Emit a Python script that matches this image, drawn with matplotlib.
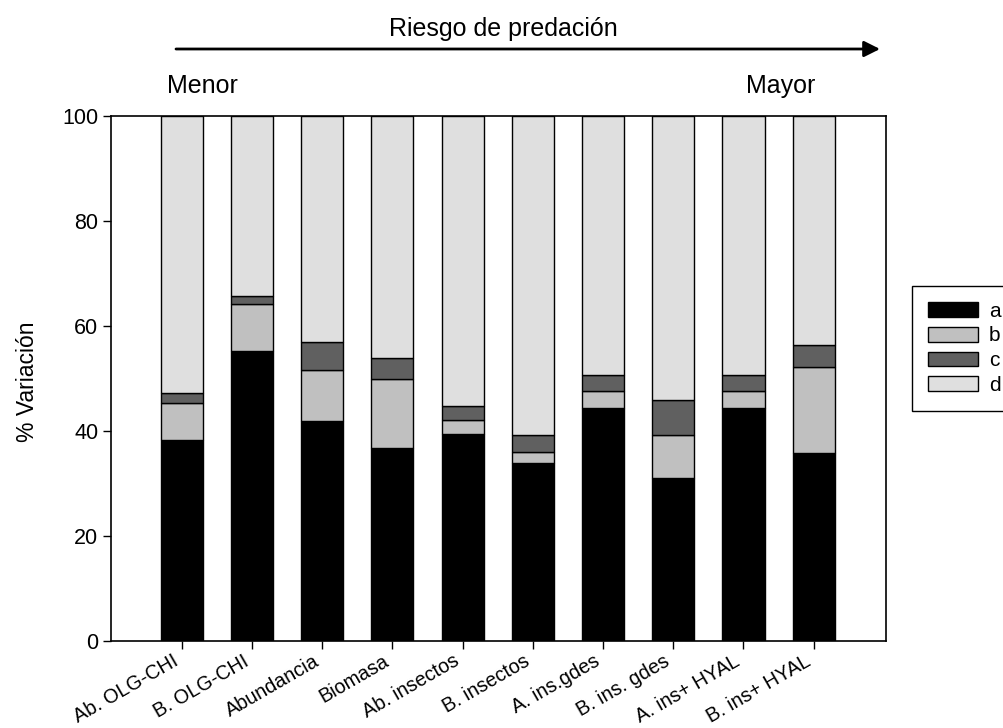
import matplotlib
matplotlib.use("Agg")
import matplotlib.pyplot as plt
import numpy as np

plt.rcParams["font.family"] = ["Liberation Sans", "DejaVu Sans"]

# Variables analysed, ordered by increasing predation risk
categories = ["Ab. OLG-CHI", "B. OLG-CHI", "Abundancia", "Biomasa", "Ab. insectos",
              "B. insectos", "A. ins.gdes", "B. ins. gdes", "A. ins+ HYAL", "B. ins+ HYAL"]

# Variance components (%) for each variable
comp_a = [38.2, 55.2, 42.0, 36.7, 39.5, 33.9, 44.3, 31.0, 44.3, 35.9]
comp_b = [7.2, 8.9, 9.7, 13.3, 2.6, 2.1, 3.3, 8.2, 3.3, 16.3]
comp_c = [1.9, 1.7, 5.2, 4.0, 2.7, 3.2, 3.1, 6.7, 3.1, 4.2]
comp_d = [52.7, 34.2, 43.1, 46.0, 55.2, 60.8, 49.3, 54.1, 49.3, 43.6]

series_labels = ["a", "b", "c", "d"]
series_colors = ["#000000", "#c0c0c0", "#606060", "#dfdfdf"]
yticks = [0, 20, 40, 60, 80, 100]

W, H = 1004, 728
fig = plt.figure(figsize=(W / 100, H / 100), dpi=100)
ax = fig.add_axes([111 / W, 1 - 641 / H, (886 - 111) / W, (641 - 116) / H])

x = np.arange(len(categories))
bottom = np.zeros(len(categories))
handles = []
for vals, lab, col in zip([comp_a, comp_b, comp_c, comp_d], series_labels, series_colors):
    bars = ax.bar(x, vals, width=0.6, bottom=bottom, color=col,
                  edgecolor="black", linewidth=1.0, label=lab)
    handles.append(bars)
    bottom += np.array(vals)

ax.set_xlim(-1.007, 10.03)
ax.set_ylim(0, 100)
ax.set_yticks(yticks)
ax.set_xticks(x)
ax.set_xticklabels(categories, rotation=30, ha="right", va="top", fontsize=14.2)
ax.tick_params(axis="both", direction="out", length=5.5, width=1.0)
ax.tick_params(axis="y", labelsize=15.5)
ax.tick_params(axis="x", pad=2)
for sp in ax.spines.values():
    sp.set_linewidth(1.2)

fig.text(28 / W, 1 - 382 / H, "% Variación", rotation=90, ha="center", va="center",
         fontsize=16.5)

# Header: predation-risk gradient
fig.text(503 / W, 1 - 29 / H, "Riesgo de predación", ha="center", va="center", fontsize=18)
ax.annotate("", xy=(880, H - 49), xytext=(176, H - 49), xycoords="figure pixels",
            textcoords="figure pixels",
            arrowprops=dict(arrowstyle="-|>", lw=2, color="black", mutation_scale=24,
                            shrinkA=0, shrinkB=0))
fig.text(202 / W, 1 - 86 / H, "Menor", ha="center", va="center", fontsize=18)
fig.text(781 / W, 1 - 86 / H, "Mayor", ha="center", va="center", fontsize=18)

leg = fig.legend(handles=handles, labels=series_labels, loc="upper left",
                 bbox_to_anchor=(912 / W, 1 - 286 / H), borderaxespad=0,
                 fontsize=15, handlelength=2.4, handleheight=0.72, labelspacing=0.28,
                 handletextpad=0.55, borderpad=0.75, fancybox=False, framealpha=1)
leg.get_frame().set_edgecolor("black")
leg.get_frame().set_linewidth(1.0)

fig.savefig("out.png", dpi=100)
